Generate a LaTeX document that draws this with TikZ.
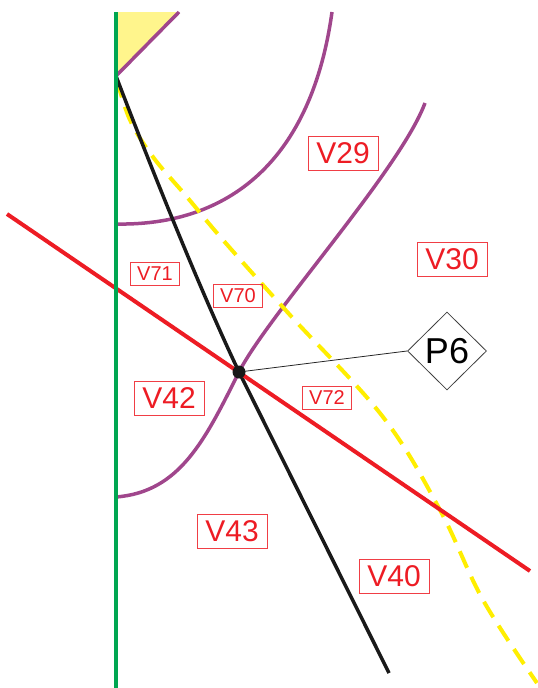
\documentclass[tikz,border=0pt]{standalone}
\usepackage{fontspec}
\setmainfont{Liberation Sans}
\usetikzlibrary{shapes.geometric}
\definecolor{vred}{RGB}{237,28,36}
\definecolor{vgreen}{RGB}{0,166,81}
\definecolor{vpurple}{RGB}{160,70,140}
\definecolor{vyellow}{RGB}{255,238,0}
\definecolor{vfill}{RGB}{255,245,140}
\tikzset{
  lbl/.style={draw=vred!85, line width=0.8pt, text=vred, inner sep=0pt,
    minimum width=70pt, minimum height=34pt, font=\fontsize{30}{30}\selectfont},
  slbl/.style={lbl, minimum width=49pt, minimum height=23pt, font=\fontsize{20}{20}\selectfont},
  pcurve/.style={draw=vpurple, line width=3.5pt},
  ycurve/.style={draw=vyellow, line width=4pt, dash pattern=on 18pt off 10pt},
}
\begin{document}
\begin{tikzpicture}[x=1pt,y=-1pt]
\useasboundingbox (0,0) rectangle (538,688);
% key points
\coordinate (gtop) at (116,12);
\coordinate (gbot) at (116,688);
\coordinate (tri) at (179,12);
\coordinate (apex) at (116,76);
\coordinate (rA) at (7,214);
\coordinate (rB) at (530,571);
\coordinate (oc) at (239,372);
\coordinate (bend) at (389,673);
% yellow region
\fill[vfill] (gtop) -- (tri) -- (apex) -- cycle;
\draw[pcurve] (apex) -- (tri);
% purple curves
\draw[pcurve] (116,224) .. controls (220,226) and (310,170) .. (332,12);
\draw[pcurve] (116,497) .. controls (180,492) and (205,440) .. (oc)
  .. controls (268,315) and (400,170) .. (425,103);
% thin connector to P6
\node[diamond, draw=black!75, line width=0.8pt, inner sep=0pt, minimum width=79pt, minimum height=78pt, font=\fontsize{36}{36}\selectfont] (p6) at (447,351) {P6};
\draw[line width=0.8pt, black!85] (oc) -- (p6.west);
% yellow dashed curve
\draw[ycurve] plot[smooth, tension=0.6] coordinates {(117,80) (130,120) (153,157) (187,197) (223,240) (290,315) (383,417) (440,510) (483,600) (537,683)};
% black curve
\draw[black!90, line width=3.5pt] (apex) .. controls (150,165) and (200,290) .. (oc) -- (bend);
% red line
\draw[vred, line width=4pt] (rA) -- (rB);
% green line
\draw[vgreen, line width=4pt] (gtop) -- (gbot);
% dot
\node[circle, fill=black!90, inner sep=0pt, minimum size=13pt] (o) at (oc) {};
% labels
\node[lbl] (v29) at (343,153) {V29};
\node[lbl] (v30) at (452,259) {V30};
\node[slbl] (v71) at (155,274) {V71};
\node[slbl] (v70) at (238,296) {V70};
\node[lbl] (v42) at (169,398) {V42};
\node[slbl] (v72) at (327,398) {V72};
\node[lbl] (v43) at (232,531) {V43};
\node[lbl] (v40) at (394,576) {V40};
\end{tikzpicture}
\end{document}
